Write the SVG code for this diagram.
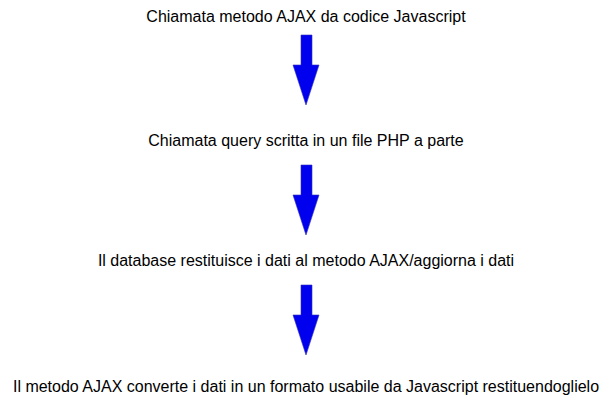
<svg xmlns="http://www.w3.org/2000/svg" width="611" height="401" viewBox="0 0 611 401">
<style>
text{font-family:"Liberation Sans",Arial,sans-serif;font-size:16px;fill:#000;text-anchor:middle}
.arr{fill:#0000ee;stroke:#3030c0;stroke-width:0.6}
</style>
<defs>
<path id="arrow" d="M301,35 H312 V65 H319 L306,105 L293,65 H301 Z"/>
</defs>
<rect width="611" height="401" fill="#fff"/>
<g id="n1"><text x="306" y="21.5">Chiamata metodo AJAX da codice Javascript</text></g>
<g id="n2"><text x="306" y="146">Chiamata query scritta in un file PHP a parte</text></g>
<g id="n3"><text x="306" y="266">Il database restituisce i dati al metodo AJAX/aggiorna i dati</text></g>
<g id="n4"><text x="306" y="392">Il metodo AJAX converte i dati in un formato usabile da Javascript restituendoglielo</text></g>
<g id="connectors">
<use href="#arrow" class="arr"/>
<use href="#arrow" class="arr" y="130"/>
<use href="#arrow" class="arr" y="250"/>
</g>
</svg>
